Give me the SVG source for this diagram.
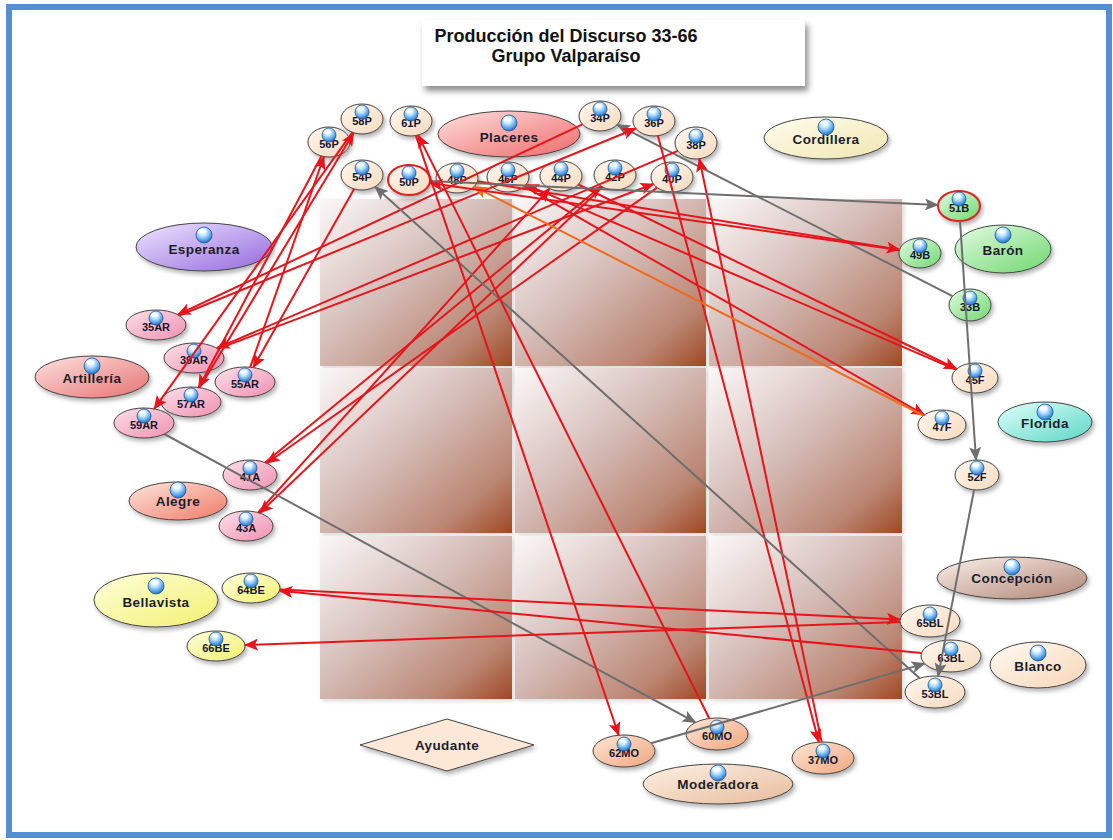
<svg xmlns="http://www.w3.org/2000/svg" xmlns:xlink="http://www.w3.org/1999/xlink" width="1113" height="840" viewBox="0 0 1113 840">
<style>
.s{font-family:"Liberation Sans",Arial,sans-serif;font-weight:bold;font-size:11px;fill:#15152c;text-anchor:middle}
.b{font-family:"Liberation Sans",Arial,sans-serif;font-weight:bold;font-size:13.5px;fill:#1e1e2a;text-anchor:middle;letter-spacing:0.4px}
.t{font-family:"Liberation Sans",Arial,sans-serif;font-weight:bold;font-size:18px;fill:#111;text-anchor:middle}
.nd{stroke:#444;stroke-width:1;filter:url(#sh)}
.red{stroke:#e8141b;stroke-width:2;fill:none;marker-end:url(#ar)}
.gry{stroke:#6e6e6e;stroke-width:2;fill:none;marker-end:url(#ag)}
.org{stroke:#f06a1c;stroke-width:2;fill:none;marker-end:url(#ao)}
.cell{fill:url(#cellg);filter:url(#sh2)}
</style>
<defs>
<filter id="sh" x="-30%" y="-30%" width="160%" height="170%"><feDropShadow dx="2" dy="3" stdDeviation="2" flood-color="#000" flood-opacity="0.3"/></filter>
<filter id="sh2" x="-10%" y="-10%" width="120%" height="120%"><feDropShadow dx="2" dy="2" stdDeviation="2" flood-color="#000" flood-opacity="0.15"/></filter>
<filter id="sh3" x="-10%" y="-20%" width="120%" height="150%"><feDropShadow dx="3" dy="5" stdDeviation="3" flood-color="#000" flood-opacity="0.45"/></filter>
<linearGradient id="cellg" x1="0" y1="0" x2="1" y2="1"><stop offset="0" stop-color="#fbf8f8"/><stop offset="0.45" stop-color="#d5bdb8"/><stop offset="0.8" stop-color="#bb8673"/><stop offset="1" stop-color="#a04824"/></linearGradient>
<radialGradient id="sg" cx="0.42" cy="0.3" r="0.75"><stop offset="0" stop-color="#ffffff"/><stop offset="0.35" stop-color="#bfe6ff"/><stop offset="0.8" stop-color="#3c90e0"/><stop offset="1" stop-color="#2464b4"/></radialGradient>
<linearGradient id="gP" x1="0" y1="0" x2="1" y2="1"><stop offset="0" stop-color="#fff8ef"/><stop offset="1" stop-color="#f7d9bd"/></linearGradient>
<linearGradient id="gAR" x1="0" y1="0" x2="1" y2="1"><stop offset="0" stop-color="#fde0ea"/><stop offset="1" stop-color="#f08fb0"/></linearGradient>
<linearGradient id="gB" x1="0" y1="0" x2="1" y2="1"><stop offset="0" stop-color="#e4fbe4"/><stop offset="1" stop-color="#6fd86f"/></linearGradient>
<linearGradient id="gBE" x1="0" y1="0" x2="1" y2="1"><stop offset="0" stop-color="#ffffdc"/><stop offset="1" stop-color="#f2f070"/></linearGradient>
<linearGradient id="gMO" x1="0" y1="0" x2="1" y2="1"><stop offset="0" stop-color="#fde6d6"/><stop offset="1" stop-color="#f0a67e"/></linearGradient>
<linearGradient id="gPla" x1="0" y1="0" x2="1" y2="1"><stop offset="0" stop-color="#fde0de"/><stop offset="1" stop-color="#ee6a6a"/></linearGradient>
<linearGradient id="gCor" x1="0" y1="0" x2="1" y2="1"><stop offset="0" stop-color="#fffdf0"/><stop offset="1" stop-color="#f0e6b0"/></linearGradient>
<linearGradient id="gEsp" x1="0" y1="0" x2="1" y2="1"><stop offset="0" stop-color="#eee6ff"/><stop offset="1" stop-color="#9468dc"/></linearGradient>
<linearGradient id="gArt" x1="0" y1="0" x2="1" y2="1"><stop offset="0" stop-color="#fde2e0"/><stop offset="1" stop-color="#e67272"/></linearGradient>
<linearGradient id="gFlo" x1="0" y1="0" x2="1" y2="1"><stop offset="0" stop-color="#e0fffa"/><stop offset="1" stop-color="#5cd6c6"/></linearGradient>
<linearGradient id="gAle" x1="0" y1="0" x2="1" y2="1"><stop offset="0" stop-color="#fde6dc"/><stop offset="1" stop-color="#f07a68"/></linearGradient>
<linearGradient id="gCon" x1="0" y1="0" x2="1" y2="1"><stop offset="0" stop-color="#faf0ec"/><stop offset="1" stop-color="#b08474"/></linearGradient>
<linearGradient id="gBla" x1="0" y1="0" x2="1" y2="1"><stop offset="0" stop-color="#fffaf3"/><stop offset="1" stop-color="#f7d6b6"/></linearGradient>
<linearGradient id="gMod" x1="0" y1="0" x2="1" y2="1"><stop offset="0" stop-color="#fdf0e4"/><stop offset="1" stop-color="#e6bc9c"/></linearGradient>
<g id="sph"><circle r="7" fill="url(#sg)" stroke="#24568e" stroke-width="0.8"/><ellipse cx="-1.5" cy="-3" rx="3.5" ry="2" fill="#fff" opacity="0.8"/></g>
<g id="sphL"><circle r="8" fill="url(#sg)" stroke="#24568e" stroke-width="0.8"/><ellipse cx="-1.5" cy="-3.5" rx="4" ry="2.2" fill="#fff" opacity="0.8"/></g>
<marker id="ar" viewBox="0 0 14 12" refX="13" refY="6" markerWidth="14" markerHeight="12" markerUnits="userSpaceOnUse" orient="auto"><path d="M0,0 L14,6 L0,12 L3,6 z" fill="#e8141b"/></marker>
<marker id="ag" viewBox="0 0 14 12" refX="13" refY="6" markerWidth="14" markerHeight="12" markerUnits="userSpaceOnUse" orient="auto"><path d="M0,0 L14,6 L0,12 L3,6 z" fill="#6e6e6e"/></marker>
<marker id="ao" viewBox="0 0 14 12" refX="13" refY="6" markerWidth="14" markerHeight="12" markerUnits="userSpaceOnUse" orient="auto"><path d="M0,0 L14,6 L0,12 L3,6 z" fill="#f06a1c"/></marker>
</defs>

<rect x="9" y="7" width="1100" height="828" fill="#ffffff" stroke="#558ed5" stroke-width="6"/>

<g id="title">
<rect x="422" y="20" width="383" height="66" fill="#ffffff" filter="url(#sh3)"/>
<text class="t" x="566" y="42">Producción del Discurso 33-66</text>
<text class="t" x="566" y="62">Grupo Valparaíso</text>
</g>

<g id="grid">
<rect class="cell" x="320" y="199" width="192" height="167"/>
<rect class="cell" x="515" y="199" width="191" height="167"/>
<rect class="cell" x="709" y="199" width="193" height="167"/>
<rect class="cell" x="320" y="368" width="192" height="165"/>
<rect class="cell" x="515" y="368" width="191" height="165"/>
<rect class="cell" x="709" y="368" width="193" height="165"/>
<rect class="cell" x="320" y="536" width="192" height="163"/>
<rect class="cell" x="515" y="536" width="191" height="163"/>
<rect class="cell" x="709" y="536" width="193" height="163"/>
</g>

<g id="Placeres"><ellipse class="nd" cx="509" cy="134" rx="71" ry="23" fill="url(#gPla)"/><text class="b" x="509" y="142">Placeres</text><use href="#sphL" x="509" y="123"/></g>
<g id="Cordillera"><ellipse class="nd" cx="826" cy="138" rx="62" ry="21" fill="url(#gCor)"/><text class="b" x="826" y="144">Cordillera</text><use href="#sphL" x="826" y="127"/></g>
<g id="Esperanza"><ellipse class="nd" cx="204" cy="247" rx="68" ry="24" fill="url(#gEsp)"/><text class="b" x="204" y="254">Esperanza</text><use href="#sphL" x="204" y="235"/></g>
<g id="Baron"><ellipse class="nd" cx="1003" cy="249" rx="48" ry="24" fill="url(#gB)"/><text class="b" x="1003" y="255">Barón</text><use href="#sphL" x="1003" y="235"/></g>
<g id="Artilleria"><ellipse class="nd" cx="92" cy="377" rx="57" ry="21" fill="url(#gArt)"/><text class="b" x="92" y="383">Artillería</text><use href="#sphL" x="92" y="366"/></g>
<g id="Florida"><ellipse class="nd" cx="1045" cy="422" rx="47" ry="20" fill="url(#gFlo)"/><text class="b" x="1045" y="428">Florida</text><use href="#sphL" x="1045" y="412"/></g>
<g id="Alegre"><ellipse class="nd" cx="178" cy="501" rx="49" ry="19" fill="url(#gAle)"/><text class="b" x="178" y="506">Alegre</text><use href="#sphL" x="178" y="490"/></g>
<g id="Concepcion"><ellipse class="nd" cx="1012" cy="578" rx="75" ry="21" fill="url(#gCon)"/><text class="b" x="1012" y="583">Concepción</text><use href="#sphL" x="1012" y="567"/></g>
<g id="Bellavista"><ellipse class="nd" cx="156" cy="600" rx="62" ry="27" fill="url(#gBE)"/><text class="b" x="156" y="607">Bellavista</text><use href="#sphL" x="156" y="586"/></g>
<g id="Blanco"><ellipse class="nd" cx="1038" cy="665" rx="48" ry="23" fill="url(#gBla)"/><text class="b" x="1038" y="671">Blanco</text><use href="#sphL" x="1038" y="653"/></g>
<g id="Moderadora"><ellipse class="nd" cx="718" cy="784" rx="75" ry="20" fill="url(#gMod)"/><text class="b" x="718" y="789">Moderadora</text><use href="#sphL" x="718" y="773"/></g>
<g id="Ayudante"><polygon class="nd" points="360,745 447,719 534,745 447,771" fill="#fde8d8"/><text class="b" x="447" y="750">Ayudante</text></g>

<g id="n58P"><ellipse class="nd" cx="362" cy="119" rx="21" ry="15" fill="url(#gP)"/><text class="s" x="362" y="125">58P</text><use href="#sph" x="362" y="112"/></g>
<g id="n61P"><ellipse class="nd" cx="411" cy="121" rx="21" ry="15" fill="url(#gP)"/><text class="s" x="411" y="127">61P</text><use href="#sph" x="411" y="114"/></g>
<g id="n56P"><ellipse class="nd" cx="329" cy="142" rx="21" ry="15" fill="url(#gP)"/><text class="s" x="329" y="148">56P</text><use href="#sph" x="329" y="135"/></g>
<g id="n34P"><ellipse class="nd" cx="600" cy="116" rx="21" ry="15" fill="url(#gP)"/><text class="s" x="600" y="122">34P</text><use href="#sph" x="600" y="109"/></g>
<g id="n36P"><ellipse class="nd" cx="654" cy="121" rx="21" ry="15" fill="url(#gP)"/><text class="s" x="654" y="127">36P</text><use href="#sph" x="654" y="114"/></g>
<g id="n38P"><ellipse class="nd" cx="696" cy="143" rx="21" ry="16" fill="url(#gP)"/><text class="s" x="696" y="149">38P</text><use href="#sph" x="696" y="136"/></g>
<g id="n54P"><ellipse class="nd" cx="362" cy="175" rx="21" ry="15" fill="url(#gP)"/><text class="s" x="362" y="181">54P</text><use href="#sph" x="362" y="168"/></g>
<g id="n50P"><ellipse class="nd" cx="409" cy="180" rx="21" ry="15" fill="url(#gP)" style="stroke:#e02020;stroke-width:2"/><text class="s" x="409" y="186">50P</text><use href="#sph" x="409" y="173"/></g>
<g id="n48P"><ellipse class="nd" cx="457" cy="178" rx="21" ry="15" fill="url(#gP)"/><text class="s" x="457" y="184">48P</text><use href="#sph" x="457" y="171"/></g>
<g id="n46P"><ellipse class="nd" cx="508" cy="177" rx="21" ry="15" fill="url(#gP)"/><text class="s" x="508" y="183">46P</text><use href="#sph" x="508" y="170"/></g>
<g id="n44P"><ellipse class="nd" cx="561" cy="176" rx="21" ry="15" fill="url(#gP)"/><text class="s" x="561" y="182">44P</text><use href="#sph" x="561" y="169"/></g>
<g id="n42P"><ellipse class="nd" cx="615" cy="175" rx="21" ry="15" fill="url(#gP)"/><text class="s" x="615" y="181">42P</text><use href="#sph" x="615" y="168"/></g>
<g id="n40P"><ellipse class="nd" cx="672" cy="177" rx="21" ry="15" fill="url(#gP)"/><text class="s" x="672" y="183">40P</text><use href="#sph" x="672" y="170"/></g>
<g id="n51B"><ellipse class="nd" cx="959" cy="206" rx="21" ry="15" fill="url(#gB)" style="stroke:#e02020;stroke-width:2"/><text class="s" x="959" y="212">51B</text><use href="#sph" x="959" y="199"/></g>
<g id="n49B"><ellipse class="nd" cx="920" cy="253" rx="21" ry="15" fill="url(#gB)"/><text class="s" x="920" y="259">49B</text><use href="#sph" x="920" y="246"/></g>
<g id="n33B"><ellipse class="nd" cx="970" cy="305" rx="21" ry="16" fill="url(#gB)"/><text class="s" x="970" y="311">33B</text><use href="#sph" x="970" y="298"/></g>
<g id="n45F"><ellipse class="nd" cx="975" cy="378" rx="23" ry="15" fill="url(#gP)"/><text class="s" x="975" y="384">45F</text><use href="#sph" x="975" y="371"/></g>
<g id="n47F"><ellipse class="nd" cx="942" cy="425" rx="24" ry="15" fill="url(#gP)"/><text class="s" x="942" y="431">47F</text><use href="#sph" x="942" y="418"/></g>
<g id="n52F"><ellipse class="nd" cx="977" cy="475" rx="22" ry="15" fill="url(#gP)"/><text class="s" x="977" y="481">52F</text><use href="#sph" x="977" y="468"/></g>
<g id="n35AR"><ellipse class="nd" cx="156" cy="325" rx="30" ry="15" fill="url(#gAR)"/><text class="s" x="156" y="331">35AR</text><use href="#sph" x="156" y="318"/></g>
<g id="n39AR"><ellipse class="nd" cx="194" cy="358" rx="30" ry="15" fill="url(#gAR)"/><text class="s" x="194" y="364">39AR</text><use href="#sph" x="194" y="351"/></g>
<g id="n55AR"><ellipse class="nd" cx="245" cy="382" rx="30" ry="15" fill="url(#gAR)"/><text class="s" x="245" y="388">55AR</text><use href="#sph" x="245" y="375"/></g>
<g id="n57AR"><ellipse class="nd" cx="191" cy="402" rx="30" ry="15" fill="url(#gAR)"/><text class="s" x="191" y="408">57AR</text><use href="#sph" x="191" y="395"/></g>
<g id="n59AR"><ellipse class="nd" cx="144" cy="423" rx="30" ry="15" fill="url(#gAR)"/><text class="s" x="144" y="429">59AR</text><use href="#sph" x="144" y="416"/></g>
<g id="n41A"><ellipse class="nd" cx="250" cy="475" rx="27" ry="15" fill="url(#gAR)"/><text class="s" x="250" y="481">41A</text><use href="#sph" x="250" y="468"/></g>
<g id="n43A"><ellipse class="nd" cx="246" cy="526" rx="27" ry="15" fill="url(#gAR)"/><text class="s" x="246" y="532">43A</text><use href="#sph" x="246" y="519"/></g>
<g id="n64BE"><ellipse class="nd" cx="251" cy="588" rx="29" ry="15" fill="url(#gBE)"/><text class="s" x="251" y="594">64BE</text><use href="#sph" x="251" y="581"/></g>
<g id="n66BE"><ellipse class="nd" cx="216" cy="646" rx="29" ry="15" fill="url(#gBE)"/><text class="s" x="216" y="652">66BE</text><use href="#sph" x="216" y="639"/></g>
<g id="n65BL"><ellipse class="nd" cx="930" cy="621" rx="30" ry="16" fill="url(#gP)"/><text class="s" x="930" y="627">65BL</text><use href="#sph" x="930" y="614"/></g>
<g id="n63BL"><ellipse class="nd" cx="951" cy="656" rx="30" ry="16" fill="url(#gP)"/><text class="s" x="951" y="662">63BL</text><use href="#sph" x="951" y="649"/></g>
<g id="n53BL"><ellipse class="nd" cx="935" cy="692" rx="30" ry="16" fill="url(#gP)"/><text class="s" x="935" y="698">53BL</text><use href="#sph" x="935" y="685"/></g>
<g id="n62MO"><ellipse class="nd" cx="624" cy="751" rx="31" ry="16" fill="url(#gMO)"/><text class="s" x="624" y="757">62MO</text><use href="#sph" x="624" y="744"/></g>
<g id="n60MO"><ellipse class="nd" cx="717" cy="734" rx="31" ry="16" fill="url(#gMO)"/><text class="s" x="717" y="740">60MO</text><use href="#sph" x="717" y="727"/></g>
<g id="n37MO"><ellipse class="nd" cx="823" cy="758" rx="31" ry="16" fill="url(#gMO)"/><text class="s" x="823" y="764">37MO</text><use href="#sph" x="823" y="751"/></g>

<g id="connectors">
<line class="gry" x1="952.5" y1="296.1" x2="617.1" y2="124.7"/>
<line class="red" x1="582.5" y1="124.3" x2="177.8" y2="314.7"/>
<line class="red" x1="179.2" y1="315.5" x2="635.8" y2="128.5"/>
<line class="red" x1="657.9" y1="135.7" x2="818.8" y2="742.1"/>
<line class="red" x1="821.7" y1="742.1" x2="699.3" y2="158.8"/>
<line class="red" x1="677.7" y1="150.8" x2="216.8" y2="348.2"/>
<line class="red" x1="217.9" y1="348.9" x2="653.5" y2="184"/>
<line class="red" x1="657.1" y1="187.6" x2="266.7" y2="463.2"/>
<line class="red" x1="265.1" y1="462.6" x2="601.2" y2="186.3"/>
<line class="red" x1="602.4" y1="187" x2="259.6" y2="513"/>
<line class="red" x1="258" y1="512.6" x2="549.6" y2="188.6"/>
<line class="red" x1="578.3" y1="184.5" x2="956.6" y2="369"/>
<line class="red" x1="955.8" y1="369.7" x2="526" y2="184.7"/>
<line class="red" x1="524.4" y1="186.4" x2="924.3" y2="414.9"/>
<line class="org" x1="923.4" y1="415.5" x2="474.1" y2="186.7"/>
<line class="red" x1="477.4" y1="181.3" x2="899.6" y2="249.7"/>
<line class="red" x1="899.4" y1="250.1" x2="429.6" y2="182.9"/>
<line class="gry" x1="430" y1="181" x2="938" y2="205"/>
<line class="gry" x1="960" y1="221" x2="976" y2="460"/>
<line class="gry" x1="974.1" y1="489.8" x2="938.1" y2="676.1"/>
<line class="gry" x1="919.7" y1="678.2" x2="375.1" y2="186.8"/>
<line class="red" x1="354.1" y1="188.9" x2="253.2" y2="367.5"/>
<line class="red" x1="250.2" y1="367.2" x2="323.9" y2="156.5"/>
<line class="red" x1="321.5" y1="156" x2="198.7" y2="387.5"/>
<line class="red" x1="199.7" y1="387.6" x2="353.7" y2="132.8"/>
<line class="red" x1="352.4" y1="132.3" x2="154.1" y2="408.9"/>
<line class="gry" x1="164.3" y1="434" x2="695.6" y2="722.4"/>
<line class="red" x1="709.3" y1="718.5" x2="418.1" y2="135.1"/>
<line class="red" x1="415.9" y1="135.6" x2="618.7" y2="735.3"/>
<line class="gry" x1="651" y1="743.2" x2="924.7" y2="663.6"/>
<line class="red" x1="921.5" y1="653.1" x2="279.5" y2="590.8"/>
<line class="red" x1="280" y1="589.4" x2="900" y2="619.5"/>
<line class="red" x1="900" y1="622" x2="245" y2="645"/>
</g>
</svg>
